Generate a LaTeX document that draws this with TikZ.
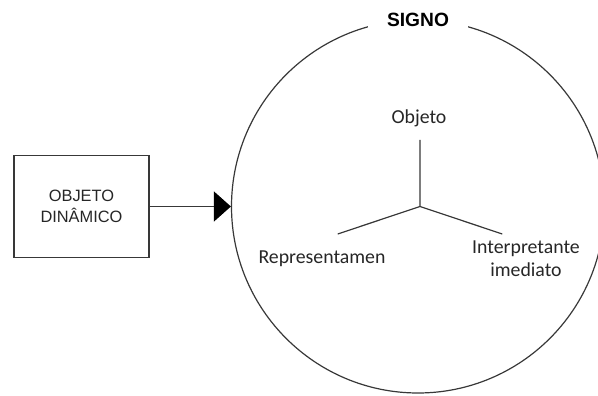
\documentclass[tikz,border=0pt]{standalone}
\usepackage{fontspec}
\setmainfont{Liberation Sans}
\newfontfamily\calib{Carlito}
\usetikzlibrary{arrows.meta}

\tikzset{
  linha/.style={draw=black!78, line width=1.2pt},
  rotulo/.style={font=\calib\fontsize{19.8}{23.3}\selectfont, text=black!85, inner sep=0pt},
}

\begin{document}
\begin{tikzpicture}[x=1pt,y=-1pt]
\clip (0,0) rectangle (598,396);
\useasboundingbox (0,0) rectangle (598,396);

% signo
\node[linha, circle, minimum size=373pt, inner sep=0pt] (signo) at (418,206.5) {};
\node[fill=white, font=\bfseries\fontsize{19.2}{22}\selectfont, minimum width=100pt, inner sep=2pt] (titulo) at (signo.north) {SIGNO};

% objeto dinamico
\node[linha, minimum width=135pt, minimum height=102pt, align=center,
      font=\fontsize{16.4}{21}\selectfont, text=black!85] (dinamico) at (81.5,206.5) {OBJETO\\DIN\^AMICO};
\draw[linha, -{Triangle[length=17pt,width=30pt,color=black]}] (dinamico) -- (signo);

% triade
\coordinate (centro) at (420,206.5);
\coordinate (topo) at (420,140);
\coordinate (esq) at (337.7,234);
\coordinate (dir) at (502.3,234);
\draw[linha] (centro) -- (topo) (centro) -- (esq) (centro) -- (dir);

\node[rotulo] (objeto) at (419,118) {Objeto};
\node[rotulo] (repr) at (322,259) {Representamen};
\node[rotulo, align=center] (interp) at (526,258.5) {Interpretante\\imediato};
\end{tikzpicture}
\end{document}
